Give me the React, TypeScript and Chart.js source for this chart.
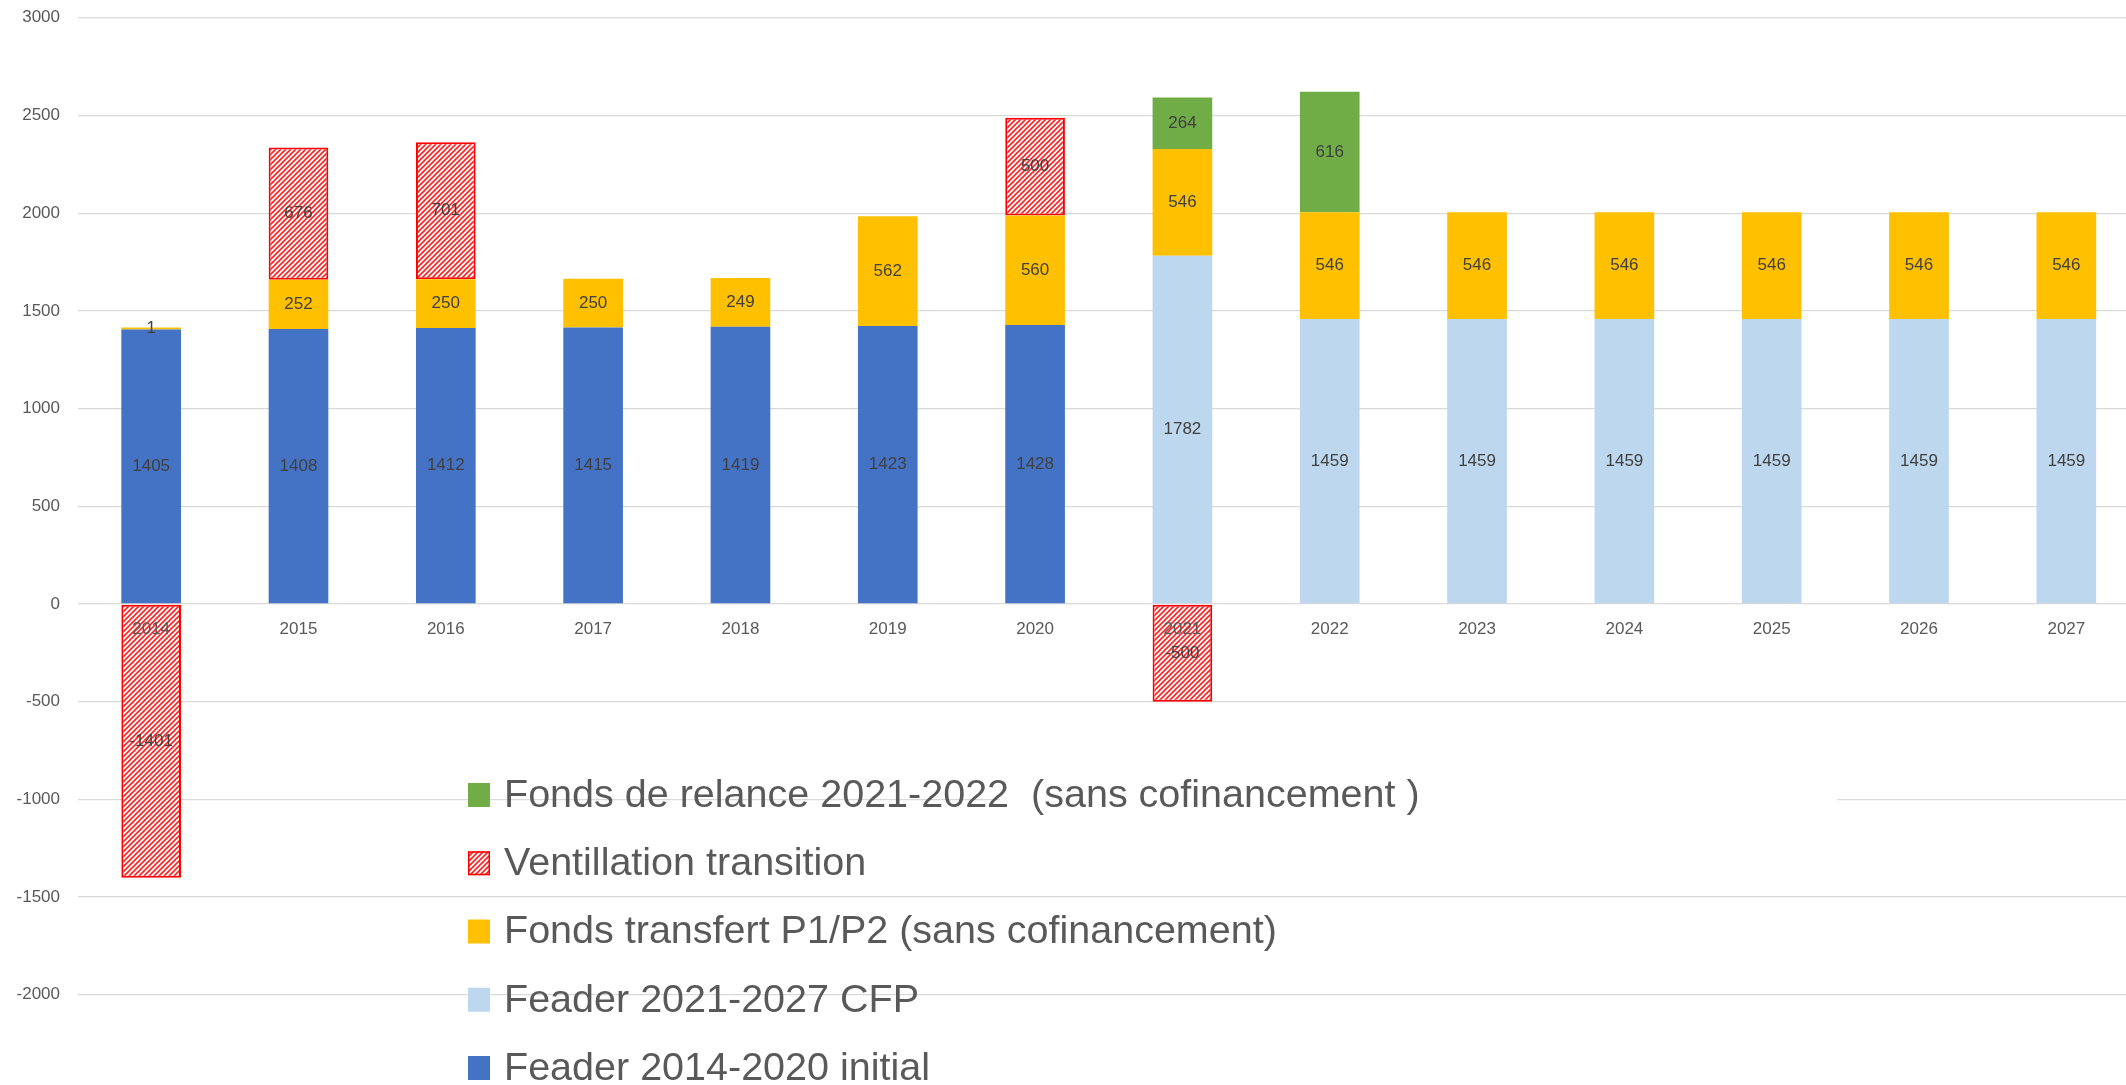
import React, { useEffect, useRef } from "react";
import { Chart, registerables } from "chart.js";

Chart.register(...registerables);

// ---------- data ----------
const years = ["2014", "2015", "2016", "2017", "2018", "2019", "2020", "2021", "2022", "2023", "2024", "2025", "2026", "2027"];

const feader1420 = [1405, 1408, 1412, 1415, 1419, 1423, 1428, null, null, null, null, null, null, null];
const feader2127 = [null, null, null, null, null, null, null, 1782, 1459, 1459, 1459, 1459, 1459, 1459];
const fondsTransfert = [1, 252, 250, 250, 249, 562, 560, 546, 546, 546, 546, 546, 546, 546];
const ventillation = [-1401, 676, 701, null, null, null, 500, -500, null, null, null, null, null, null];
const fondsRelance = [null, null, null, null, null, null, null, 264, 616, null, null, null, null, null];

const seriesLabels = [
  "Feader 2014-2020 initial",
  "Feader 2021-2027 CFP",
  "Fonds transfert P1/P2 (sans cofinancement)",
  "Ventillation transition",
  "Fonds de relance 2021-2022  (sans cofinancement )",
];

const yMin = -2000;
const yMax = 3000;
const yStep = 500;

const FONT = '"Liberation Sans", Arial, sans-serif';

function makeHatch(): CanvasPattern | string {
  const c = document.createElement("canvas");
  const s = 5;
  c.width = s;
  c.height = s;
  const g = c.getContext("2d");
  if (!g) return "#ff0000";
  g.fillStyle = "#ffffff";
  g.fillRect(0, 0, s, s);
  g.strokeStyle = "#ff2020";
  g.lineWidth = 1.6;
  g.beginPath();
  g.moveTo(0, s);
  g.lineTo(s, 0);
  g.moveTo(-1, 1);
  g.lineTo(1, -1);
  g.moveTo(s - 1, s + 1);
  g.lineTo(s + 1, s - 1);
  g.stroke();
  return g.createPattern(c, "repeat") || "#ff0000";
}

const barLabelsPlugin = {
  id: "barLabels",
  afterDatasetsDraw(chart: any) {
    const ctx = chart.ctx;
    ctx.save();
    ctx.font = `17px ${FONT}`;
    ctx.fillStyle = "#404040";
    ctx.textAlign = "center";
    ctx.textBaseline = "middle";
    chart.data.datasets.forEach((ds: any, di: number) => {
      const meta = chart.getDatasetMeta(di);
      meta.data.forEach((el: any, i: number) => {
        const v = ds.data[i];
        if (v === null || v === undefined) return;
        const p = el.getProps(["x", "y", "base"], true);
        ctx.fillText(String(v), p.x, (p.y + p.base) / 2);
      });
    });
    ctx.restore();
  },
};

const legendPlugin = {
  id: "bigLegend",
  afterDraw(chart: any) {
    const ctx = chart.ctx;
    const ds = chart.data.datasets;
    const x0 = 468;
    const y0 = 795;
    const step = 68.25;
    ctx.save();
    // white backing that hides part of a gridline, as in the source
    ctx.fillStyle = "#ffffff";
    ctx.fillRect(1000, 786, 837, 26);
    ctx.font = `39.5px ${FONT}`;
    ctx.textBaseline = "middle";
    ctx.textAlign = "left";
    for (let k = 0; k < ds.length; k++) {
      const d = ds[ds.length - 1 - k];
      const cy = y0 + step * k;
      ctx.fillStyle = d.backgroundColor;
      ctx.fillRect(x0, cy - 12, 22, 24);
      if (d.borderWidth) {
        ctx.strokeStyle = d.borderColor;
        ctx.lineWidth = 1.5;
        ctx.strokeRect(x0 + 0.75, cy - 11.25, 20.5, 22.5);
      }
      ctx.fillStyle = "#595959";
      ctx.fillText(d.label, x0 + 36, cy + 1);
    }
    ctx.restore();
  },
};

export default function App() {
  const ref = useRef<HTMLCanvasElement | null>(null);

  useEffect(() => {
    if (!ref.current) return;
    const hatch = makeHatch();
    const chart = new Chart(ref.current, {
      type: "bar",
      data: {
        labels: years,
        datasets: [
          { label: seriesLabels[0], data: feader1420, backgroundColor: "#4472C4", borderWidth: 0 },
          { label: seriesLabels[1], data: feader2127, backgroundColor: "#BDD7EE", borderWidth: 0 },
          { label: seriesLabels[2], data: fondsTransfert, backgroundColor: "#FFC000", borderWidth: 0, minBarLength: 2 },
          {
            label: seriesLabels[3],
            data: ventillation,
            backgroundColor: hatch as any,
            borderColor: "#FF0000",
            borderWidth: 2,
            borderSkipped: false,
          },
          { label: seriesLabels[4], data: fondsRelance, backgroundColor: "#70AD47", borderWidth: 0 },
        ] as any,
      },
      options: {
        animation: false,
        responsive: false,
        devicePixelRatio: 1,
        datasets: { bar: { barPercentage: 0.405, categoryPercentage: 1 } },
        layout: { padding: { left: 0, top: 17.8, right: 10, bottom: 90.2 } },
        plugins: {
          legend: { display: false },
          tooltip: { enabled: false },
        },
        scales: {
          x: {
            stacked: true,
            position: { y: 0 } as any,
            grid: { display: false, drawTicks: false },
            border: { display: false },
            ticks: {
              z: 1,
              color: "#595959",
              font: { family: FONT, size: 17 },
              padding: 15,
              maxRotation: 0,
              autoSkip: false,
            },
          },
          y: {
            stacked: true,
            min: yMin,
            max: yMax,
            grid: {
              color: "#d9d9d9",
              lineWidth: 1.3,
              drawTicks: true,
              tickLength: 14.5,
              tickColor: "rgba(0,0,0,0)",
            },
            border: { display: false },
            ticks: {
              stepSize: yStep,
              color: "#595959",
              font: { family: FONT, size: 17 },
              padding: 3,
              callback: (v: any) => String(v),
            },
            afterFit: (s: any) => {
              s.width = 77.5;
            },
          },
        },
      } as any,
      plugins: [barLabelsPlugin, legendPlugin],
    });
    return () => chart.destroy();
  }, []);

  return (
    <div
      style={{
        position: "fixed",
        left: 0,
        top: 0,
        width: 2126,
        height: 1085,
        overflow: "hidden",
        background: "#ffffff",
      }}
    >
      <canvas ref={ref} width={2150} height={1085} style={{ display: "block" }} />
    </div>
  );
}
